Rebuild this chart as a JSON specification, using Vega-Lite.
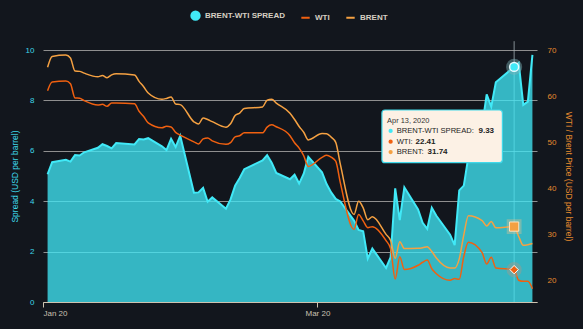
{
  "$schema": "https://vega.github.io/schema/vega-lite/v6.json",
  "width": 494,
  "height": 252,
  "autosize": {"type": "none"},
  "padding": {"left": 43, "top": 50, "right": 46, "bottom": 27},
  "background": "#12161d",
  "config": {
    "view": {"stroke": null},
    "font": "Liberation Sans",
    "axis": {"labelFont": "Liberation Sans", "titleFont": "Liberation Sans", "titleFontWeight": "normal"},
    "axisX": {"labelExpr": "utcFormat(datum.value, '%b %y')"}
  },
  "datasets": {
    "oil": [
      {"date": "2020-01-02", "BRENT": 66.25, "WTI": 61.18, "spread": 5.07},
      {"date": "2020-01-03", "BRENT": 68.60, "WTI": 63.05, "spread": 5.55},
      {"date": "2020-01-06", "BRENT": 68.91, "WTI": 63.27, "spread": 5.64},
      {"date": "2020-01-07", "BRENT": 68.27, "WTI": 62.70, "spread": 5.57},
      {"date": "2020-01-08", "BRENT": 65.44, "WTI": 59.61, "spread": 5.83},
      {"date": "2020-01-09", "BRENT": 65.37, "WTI": 59.56, "spread": 5.81},
      {"date": "2020-01-10", "BRENT": 64.98, "WTI": 59.04, "spread": 5.94},
      {"date": "2020-01-13", "BRENT": 64.20, "WTI": 58.08, "spread": 6.12},
      {"date": "2020-01-14", "BRENT": 64.49, "WTI": 58.23, "spread": 6.26},
      {"date": "2020-01-15", "BRENT": 64.00, "WTI": 57.81, "spread": 6.19},
      {"date": "2020-01-16", "BRENT": 64.62, "WTI": 58.52, "spread": 6.10},
      {"date": "2020-01-17", "BRENT": 64.85, "WTI": 58.54, "spread": 6.31},
      {"date": "2020-01-21", "BRENT": 64.59, "WTI": 58.34, "spread": 6.25},
      {"date": "2020-01-22", "BRENT": 63.21, "WTI": 56.74, "spread": 6.47},
      {"date": "2020-01-23", "BRENT": 62.04, "WTI": 55.59, "spread": 6.45},
      {"date": "2020-01-24", "BRENT": 60.69, "WTI": 54.19, "spread": 6.50},
      {"date": "2020-01-27", "BRENT": 59.32, "WTI": 53.14, "spread": 6.18},
      {"date": "2020-01-28", "BRENT": 59.51, "WTI": 53.48, "spread": 6.03},
      {"date": "2020-01-29", "BRENT": 59.81, "WTI": 53.33, "spread": 6.48},
      {"date": "2020-01-30", "BRENT": 58.29, "WTI": 52.14, "spread": 6.15},
      {"date": "2020-01-31", "BRENT": 58.16, "WTI": 51.56, "spread": 6.60},
      {"date": "2020-02-03", "BRENT": 54.45, "WTI": 50.11, "spread": 4.34},
      {"date": "2020-02-04", "BRENT": 53.96, "WTI": 49.61, "spread": 4.35},
      {"date": "2020-02-05", "BRENT": 55.28, "WTI": 50.75, "spread": 4.53},
      {"date": "2020-02-06", "BRENT": 54.93, "WTI": 50.95, "spread": 3.98},
      {"date": "2020-02-07", "BRENT": 54.47, "WTI": 50.32, "spread": 4.15},
      {"date": "2020-02-10", "BRENT": 53.27, "WTI": 49.57, "spread": 3.70},
      {"date": "2020-02-11", "BRENT": 54.01, "WTI": 49.94, "spread": 4.07},
      {"date": "2020-02-12", "BRENT": 55.79, "WTI": 51.17, "spread": 4.62},
      {"date": "2020-02-13", "BRENT": 56.34, "WTI": 51.42, "spread": 4.92},
      {"date": "2020-02-14", "BRENT": 57.32, "WTI": 52.05, "spread": 5.27},
      {"date": "2020-02-18", "BRENT": 57.67, "WTI": 52.05, "spread": 5.62},
      {"date": "2020-02-19", "BRENT": 59.12, "WTI": 53.29, "spread": 5.83},
      {"date": "2020-02-20", "BRENT": 59.31, "WTI": 53.78, "spread": 5.53},
      {"date": "2020-02-21", "BRENT": 58.50, "WTI": 53.38, "spread": 5.12},
      {"date": "2020-02-24", "BRENT": 56.30, "WTI": 51.43, "spread": 4.87},
      {"date": "2020-02-25", "BRENT": 54.95, "WTI": 49.90, "spread": 5.05},
      {"date": "2020-02-26", "BRENT": 53.43, "WTI": 48.73, "spread": 4.70},
      {"date": "2020-02-27", "BRENT": 52.18, "WTI": 47.09, "spread": 5.09},
      {"date": "2020-02-28", "BRENT": 50.52, "WTI": 44.76, "spread": 5.76},
      {"date": "2020-03-02", "BRENT": 51.90, "WTI": 46.75, "spread": 5.15},
      {"date": "2020-03-03", "BRENT": 51.86, "WTI": 47.18, "spread": 4.68},
      {"date": "2020-03-04", "BRENT": 51.13, "WTI": 46.78, "spread": 4.35},
      {"date": "2020-03-05", "BRENT": 49.99, "WTI": 45.90, "spread": 4.09},
      {"date": "2020-03-06", "BRENT": 45.27, "WTI": 41.28, "spread": 3.99},
      {"date": "2020-03-09", "BRENT": 34.36, "WTI": 31.13, "spread": 3.23},
      {"date": "2020-03-10", "BRENT": 37.22, "WTI": 34.36, "spread": 2.86},
      {"date": "2020-03-11", "BRENT": 35.79, "WTI": 32.98, "spread": 2.81},
      {"date": "2020-03-12", "BRENT": 33.22, "WTI": 31.50, "spread": 1.72},
      {"date": "2020-03-13", "BRENT": 33.85, "WTI": 31.73, "spread": 2.12},
      {"date": "2020-03-16", "BRENT": 30.05, "WTI": 28.70, "spread": 1.35},
      {"date": "2020-03-17", "BRENT": 28.73, "WTI": 26.95, "spread": 1.78},
      {"date": "2020-03-18", "BRENT": 24.88, "WTI": 20.37, "spread": 4.51},
      {"date": "2020-03-19", "BRENT": 28.47, "WTI": 25.22, "spread": 3.25},
      {"date": "2020-03-20", "BRENT": 26.98, "WTI": 22.43, "spread": 4.55},
      {"date": "2020-03-23", "BRENT": 27.03, "WTI": 23.36, "spread": 3.67},
      {"date": "2020-03-24", "BRENT": 27.15, "WTI": 24.01, "spread": 3.14},
      {"date": "2020-03-25", "BRENT": 27.39, "WTI": 24.49, "spread": 2.90},
      {"date": "2020-03-26", "BRENT": 26.34, "WTI": 22.60, "spread": 3.74},
      {"date": "2020-03-27", "BRENT": 24.93, "WTI": 21.51, "spread": 3.42},
      {"date": "2020-03-30", "BRENT": 22.76, "WTI": 20.09, "spread": 2.67},
      {"date": "2020-03-31", "BRENT": 22.74, "WTI": 20.48, "spread": 2.26},
      {"date": "2020-04-01", "BRENT": 24.74, "WTI": 20.31, "spread": 4.43},
      {"date": "2020-04-02", "BRENT": 29.94, "WTI": 25.32, "spread": 4.62},
      {"date": "2020-04-03", "BRENT": 34.11, "WTI": 28.34, "spread": 5.77},
      {"date": "2020-04-06", "BRENT": 33.05, "WTI": 26.08, "spread": 6.97},
      {"date": "2020-04-07", "BRENT": 31.87, "WTI": 23.63, "spread": 8.24},
      {"date": "2020-04-08", "BRENT": 32.84, "WTI": 25.09, "spread": 7.75},
      {"date": "2020-04-09", "BRENT": 31.48, "WTI": 22.76, "spread": 8.72},
      {"date": "2020-04-13", "BRENT": 31.74, "WTI": 22.41, "spread": 9.33},
      {"date": "2020-04-14", "BRENT": 29.60, "WTI": 20.11, "spread": 9.49},
      {"date": "2020-04-15", "BRENT": 27.69, "WTI": 19.87, "spread": 7.82},
      {"date": "2020-04-16", "BRENT": 27.82, "WTI": 19.87, "spread": 7.95},
      {"date": "2020-04-17", "BRENT": 28.08, "WTI": 18.27, "spread": 9.81}
    ],
    "hi": [{"date": "2020-04-13", "BRENT": 31.74, "WTI": 22.41, "spread": 9.33}],
    "box": [{"x1": "2020-03-15T02:24:00Z", "x2": "2020-04-10T10:30:00Z", "y1": 7.62, "y2": 5.53}],
    "tipDate": [{"t": "2020-03-16T05:30:00Z", "v": 7.183, "txt": "Apr 13, 2020"}],
    "tipDots": [
      {"t": "2020-03-17T00:00:00Z", "v": 6.786, "series": "BRENT-WTI SPREAD"},
      {"t": "2020-03-17T00:00:00Z", "v": 6.361, "series": "WTI"},
      {"t": "2020-03-17T00:00:00Z", "v": 5.952, "series": "BRENT"}
    ],
    "tipLabels": [
      {"t": "2020-03-18T07:30:00Z", "v": 6.786, "txt": "BRENT-WTI SPREAD:"},
      {"t": "2020-03-18T07:30:00Z", "v": 6.361, "txt": "WTI:"},
      {"t": "2020-03-18T07:30:00Z", "v": 5.952, "txt": "BRENT:"}
    ],
    "tipValues": [
      {"t": "2020-04-05T05:00:00Z", "v": 6.786, "txt": "9.33"},
      {"t": "2020-03-22T10:30:00Z", "v": 6.361, "txt": "22.41"},
      {"t": "2020-03-25T01:30:00Z", "v": 5.952, "txt": "31.74"}
    ]
  },
  "layer": [
    {
      "data": {"name": "oil"},
      "layer": [
        {
          "data": {"name": "hi"},
          "mark": {"type": "rule", "color": "#a9b6ba", "strokeWidth": 1, "opacity": 0.75},
          "encoding": {
            "x": {
              "field": "date", "type": "temporal",
              "scale": {"type": "utc", "domain": [{"year": 2020, "month": 1, "date": 1, "utc": true}, {"year": 2020, "month": 4, "date": 18, "utc": true}]},
              "axis": {
                "values": [{"year": 2020, "month": 1, "date": 1, "utc": true}, {"year": 2020, "month": 3, "date": 1, "utc": true}],
                "labelExpr": "utcFormat(datum.value, '%b %y')", "title": null, "grid": false,
                "domainColor": "#cdc3b0", "domainWidth": 1, "tickColor": "#cdc3b0", "tickSize": 5,
                "labelColor": "#c9c0b0", "labelFontSize": 8, "labelPadding": 2
              }
            },
            "y": {"datum": 0},
            "y2": {"datum": 10.35}
          }
        },
        {
          "mark": {"type": "area", "fillOpacity": 0.76, "interpolate": "linear"},
          "encoding": {
            "x": {"field": "date", "type": "temporal"},
            "y": {
              "field": "spread", "type": "quantitative",
              "scale": {"domain": [0, 10], "nice": false},
              "axis": {
                "orient": "left", "values": [0, 2, 4, 6, 8, 10], "grid": true, "gridColor": "#8f8f8f", "gridWidth": 1,
                "domain": false, "ticks": false, "labelColor": "#3ed6ea", "labelFontSize": 8, "labelPadding": 9,
                "title": "Spread (USD per barrel)", "titleColor": "#3ed6ea", "titleFontSize": 8.5, "titlePadding": 6
              }
            },
            "color": {
              "datum": "BRENT-WTI SPREAD", "type": "nominal", "title": null,
              "scale": {"domain": ["BRENT-WTI SPREAD", "WTI", "BRENT"], "range": ["#41e9f7", "#f06010", "#f5a142"]},
              "legend": {
                "orient": "none", "legendX": 147, "legendY": -40, "direction": "horizontal", "title": null,
                "labelColor": "#d6cfc2", "labelFont": "Liberation Sans", "labelFontSize": 8, "labelFontWeight": "bold",
                "symbolSize": 70, "columnPadding": 12, "labelOffset": 4,
                "encode": {
                  "symbols": {
                    "update": {
                      "shape": {"signal": "datum.value === 'BRENT-WTI SPREAD' ? 'circle' : 'stroke'"},
                      "fill": {"signal": "datum.value === 'BRENT-WTI SPREAD' ? '#41e9f7' : 'transparent'"},
                      "stroke": {"signal": "datum.value === 'WTI' ? '#f06010' : (datum.value === 'BRENT' ? '#f5a142' : 'transparent')"},
                      "strokeWidth": {"value": 2},
                      "fillOpacity": {"value": 1},
                      "opacity": {"value": 1}
                    }
                  }
                }
              }
            }
          }
        },
        {
          "mark": {"type": "line", "strokeWidth": 2, "interpolate": "linear"},
          "encoding": {
            "x": {"field": "date", "type": "temporal"},
            "y": {"field": "spread", "type": "quantitative"},
            "color": {"datum": "BRENT-WTI SPREAD", "type": "nominal", "title": null}
          }
        }
      ]
    },
    {
      "data": {"name": "oil"},
      "layer": [
        {
          "transform": [{"fold": ["WTI", "BRENT"], "as": ["series", "price"]}],
          "mark": {"type": "line", "strokeWidth": 1.5, "interpolate": "monotone"},
          "encoding": {
            "x": {"field": "date", "type": "temporal"},
            "y": {
              "field": "price", "type": "quantitative",
              "scale": {"domain": [15.4, 70], "nice": false, "zero": false},
              "axis": {
                "orient": "right", "values": [20, 30, 40, 50, 60, 70], "grid": false, "domain": false, "ticks": false,
                "labelColor": "#e58a2e", "labelFontSize": 8, "labelPadding": 10,
                "title": "WTI / Brent Price (USD per barrel)", "titleColor": "#e58a2e", "titleFontSize": 8.5, "titlePadding": 8
              }
            },
            "color": {"field": "series", "type": "nominal", "title": null}
          }
        },
        {
          "data": {"name": "hi"},
          "mark": {"type": "point", "shape": "square", "filled": true, "size": 220, "color": "#f5c48a", "opacity": 0.35},
          "encoding": {"x": {"field": "date", "type": "temporal"}, "y": {"field": "BRENT", "type": "quantitative"}}
        },
        {
          "data": {"name": "hi"},
          "mark": {"type": "point", "shape": "square", "filled": true, "size": 85, "fill": "#f5a142", "stroke": "#fde3bf", "strokeWidth": 1, "opacity": 1},
          "encoding": {"x": {"field": "date", "type": "temporal"}, "y": {"field": "BRENT", "type": "quantitative"}}
        },
        {
          "data": {"name": "hi"},
          "mark": {"type": "point", "shape": "circle", "filled": true, "size": 230, "color": "#a69a8a", "opacity": 0.45},
          "encoding": {"x": {"field": "date", "type": "temporal"}, "y": {"field": "WTI", "type": "quantitative"}}
        },
        {
          "data": {"name": "hi"},
          "mark": {"type": "point", "shape": "diamond", "filled": true, "size": 70, "fill": "#f06010", "stroke": "#ffffff", "strokeWidth": 1, "opacity": 1},
          "encoding": {"x": {"field": "date", "type": "temporal"}, "y": {"field": "WTI", "type": "quantitative"}}
        }
      ]
    },
    {
      "layer": [
        {
          "data": {"name": "hi"},
          "mark": {"type": "point", "shape": "circle", "filled": true, "size": 260, "color": "#7fb3ba", "opacity": 0.45},
          "encoding": {
            "x": {"field": "date", "type": "temporal"},
            "y": {"field": "spread", "type": "quantitative", "scale": {"domain": [0, 10], "nice": false}, "axis": null}
          }
        },
        {
          "data": {"name": "hi"},
          "mark": {"type": "point", "shape": "circle", "filled": true, "size": 80, "fill": "#41e9f7", "stroke": "#e8fbff", "strokeWidth": 1.5, "opacity": 1},
          "encoding": {"x": {"field": "date", "type": "temporal"}, "y": {"field": "spread", "type": "quantitative"}}
        },
        {
          "data": {"name": "box"},
          "mark": {"type": "rect", "fill": "#fcf1e5", "stroke": "#41d9ea", "strokeWidth": 1.2, "cornerRadius": 3},
          "encoding": {
            "x": {"field": "x1", "type": "temporal"}, "x2": {"field": "x2"},
            "y": {"field": "y1", "type": "quantitative"}, "y2": {"field": "y2"}
          }
        },
        {
          "data": {"name": "tipDate"},
          "mark": {"type": "text", "align": "left", "baseline": "middle", "fontSize": 7.4, "color": "#333333", "font": "Liberation Sans"},
          "encoding": {"x": {"field": "t", "type": "temporal"}, "y": {"field": "v", "type": "quantitative"}, "text": {"field": "txt"}}
        },
        {
          "data": {"name": "tipDots"},
          "mark": {"type": "point", "shape": "circle", "filled": true, "size": 18, "opacity": 1},
          "encoding": {"x": {"field": "t", "type": "temporal"}, "y": {"field": "v", "type": "quantitative"}, "color": {"field": "series", "type": "nominal", "title": null}}
        },
        {
          "data": {"name": "tipLabels"},
          "mark": {"type": "text", "align": "left", "baseline": "middle", "fontSize": 7.6, "color": "#222222", "font": "Liberation Sans"},
          "encoding": {"x": {"field": "t", "type": "temporal"}, "y": {"field": "v", "type": "quantitative"}, "text": {"field": "txt"}}
        },
        {
          "data": {"name": "tipValues"},
          "mark": {"type": "text", "align": "left", "baseline": "middle", "fontSize": 8, "fontWeight": "bold", "color": "#222222", "font": "Liberation Sans"},
          "encoding": {"x": {"field": "t", "type": "temporal"}, "y": {"field": "v", "type": "quantitative"}, "text": {"field": "txt"}}
        }
      ]
    }
  ],
  "resolve": {"scale": {"y": "independent"}}
}
